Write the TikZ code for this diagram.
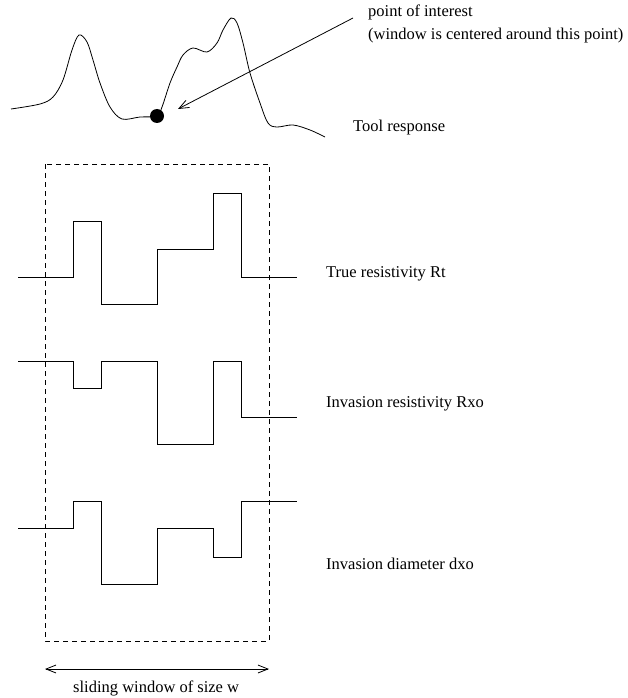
\documentclass[tikz,border=0pt]{standalone}
\usepackage{fontspec}
\setmainfont{Liberation Serif}
\usetikzlibrary{arrows.meta}
\begin{document}
\begin{tikzpicture}[x=1pt,y=-1pt,
    wire/.style={line width=0.8pt, line join=miter},
    window/.style={line width=0.8pt, dash pattern=on 5pt off 4pt},
    lbl/.style={anchor=west, inner sep=0pt, font=\fontsize{16.5}{19}\selectfont},
    stick/.style={-{Straight Barb[length=10pt,width=8pt,line width=0.8pt]}}]
  \useasboundingbox (0,0) rectangle (628,698);

  % tool response curve
  \draw[wire] plot[smooth, tension=0.55] coordinates {
    (11,109) (40,104) (53,97) (63,80) (72,50) (79,35) (87,42) (93,60)
    (100,83) (110,107) (122,119) (140,117) (157,116) (162,107) (170,83)
    (177,67) (183,55) (193,48) (207,52) (217,43) (223,30) (231,18)
    (237,23) (243,43) (250,73) (260,103) (268,123) (277,127) (293,125)
    (310,130) (325,137)};
  \node[circle, fill=black, inner sep=0pt, minimum size=14pt] (poi) at (157,116) {};

  % labels
  \node[lbl] (lpoi) at (368,12) {point of interest};
  \node[lbl] (lwin) at (368,36) {(window is centered around this point)};
  \node[lbl] (ltool) at (353,128) {Tool response};
  \node[lbl] (lrt) at (326,274) {True resistivity Rt};
  \node[lbl] (lrxo) at (326,404) {Invasion resistivity Rxo};
  \node[lbl] (ldxo) at (326,564) {Invasion diameter dxo};
  \node[lbl] (lw) at (73,688) {sliding window of size w};

  % pointer to the point of interest
  \coordinate (ptail) at (353,18);
  \coordinate (phead) at (178,109);
  \draw[wire, stick] (ptail) -- (phead);

  % sliding window
  \draw[window] (45,164) rectangle (269,641);

  % true resistivity
  \draw[wire] (18,277) -- (73,277) -- (73,221) -- (101,221) -- (101,304)
    -- (157,304) -- (157,249) -- (213,249) -- (213,193) -- (241,193)
    -- (241,277) -- (297,277);
  % invasion resistivity
  \draw[wire] (18,361) -- (73,361) -- (73,388) -- (101,388) -- (101,361)
    -- (157,361) -- (157,444) -- (213,444) -- (213,361) -- (241,361)
    -- (241,417) -- (297,417);
  % invasion diameter
  \draw[wire] (18,528) -- (73,528) -- (73,501) -- (101,501) -- (101,584)
    -- (157,584) -- (157,528) -- (213,528) -- (213,557) -- (241,557)
    -- (241,501) -- (297,501);

  % window width
  \coordinate (wl) at (45,669);
  \coordinate (wr) at (269,669);
  \draw[wire, {Straight Barb[length=10pt,width=8pt,line width=0.8pt]}-{Straight Barb[length=10pt,width=8pt,line width=0.8pt]}] (wl) -- (wr);
\end{tikzpicture}
\end{document}
